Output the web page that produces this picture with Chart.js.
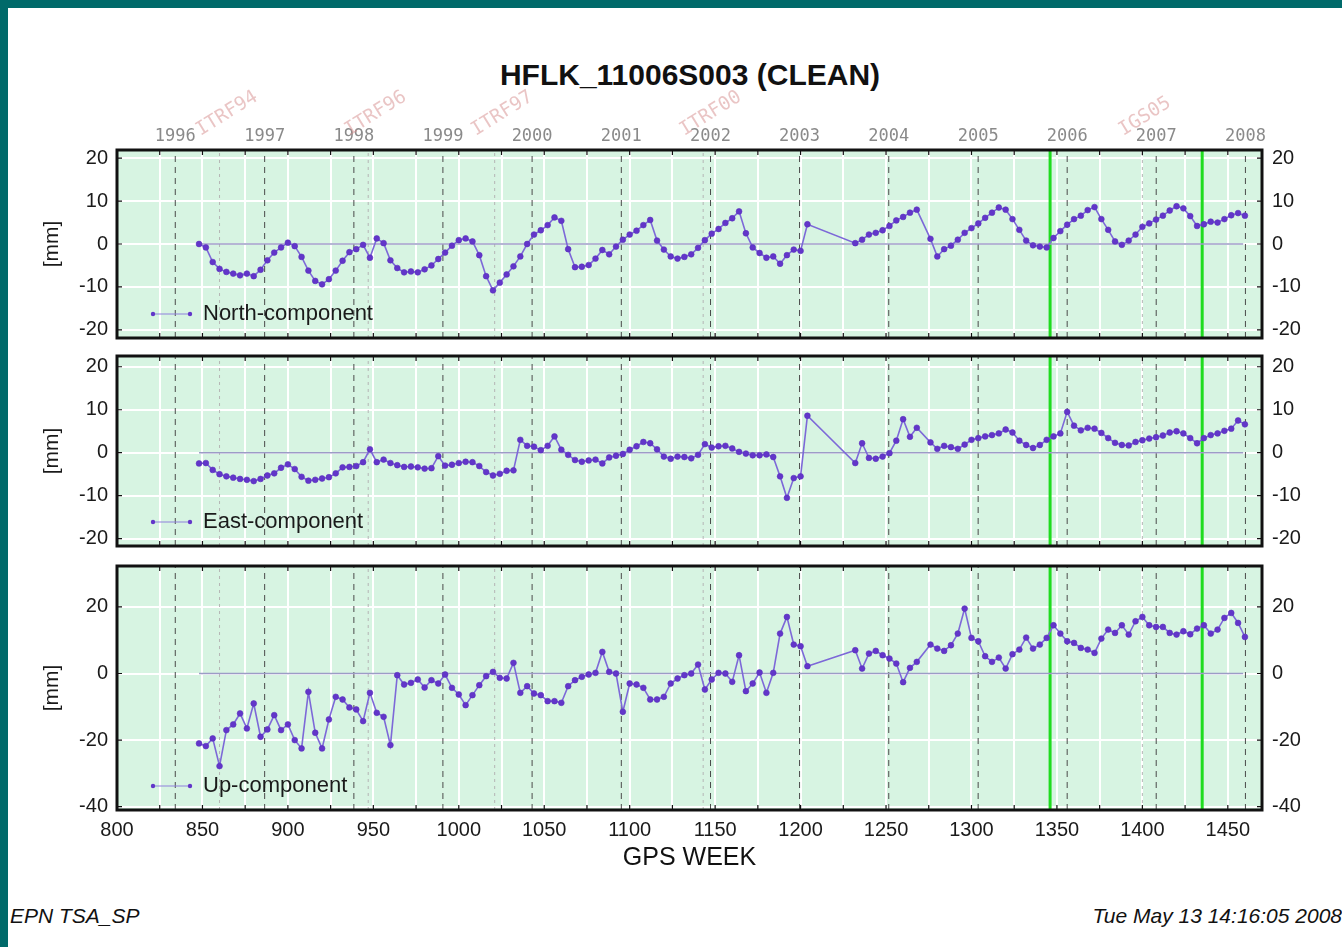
<!DOCTYPE html>
<html>
<head>
<meta charset="utf-8">
<script src="https://cdn.jsdelivr.net/npm/chart.js@4.4.0/dist/chart.umd.min.js"></script>
<style>
  html, body { margin: 0; padding: 0; }
  body { width: 1342px; height: 947px; background: #006a6a; position: relative; overflow: hidden;
         font-family: "Liberation Sans", Arial, Helvetica, sans-serif; }
  #page { position: absolute; left: 8px; top: 8px; width: 1334px; height: 939px; background: #ffffff; }
  #page canvas { position: absolute; left: 0; }
  #title { position: absolute; left: 382px; width: 600px; top: 49px; line-height: 36px; text-align: center;
           font-size: 30px; font-weight: bold; color: #111; }
  #footL { position: absolute; left: 2px; top: 896px; line-height: 24px; font-size: 21px; font-style: italic; color: #111; }
  #footR { position: absolute; right: 0px; top: 896px; line-height: 24px; font-size: 21px; font-style: italic; color: #111; white-space: nowrap; }
</style>
</head>
<body>
<div id="page">
  <div id="title">HFLK_11006S003 (CLEAN)</div>
  <canvas id="c1" width="1334" height="306" style="top:32px"></canvas>
  <canvas id="c2" width="1334" height="210" style="top:338px"></canvas>
  <canvas id="c3" width="1334" height="334" style="top:548px"></canvas>
  <div id="footL">EPN TSA_SP</div>
  <div id="footR">Tue May 13 14:16:05 2008</div>
</div>
<script>
// ---------------- DATA ----------------
const weeks = [
  848, 852, 856, 860, 864, 868, 872, 876, 880, 884,
  888, 892, 896, 900, 904, 908, 912, 916, 920, 924,
  928, 932, 936, 940, 944, 948, 952, 956, 960, 964,
  968, 972, 976, 980, 984, 988, 992, 996, 1000, 1004,
  1008, 1012, 1016, 1020, 1024, 1028, 1032, 1036, 1040, 1044,
  1048, 1052, 1056, 1060, 1064, 1068, 1072, 1076, 1080, 1084,
  1088, 1092, 1096, 1100, 1104, 1108, 1112, 1116, 1120, 1124,
  1128, 1132, 1136, 1140, 1144, 1148, 1152, 1156, 1160, 1164,
  1168, 1172, 1176, 1180, 1184, 1188, 1192, 1196, 1200, 1204,
  1232, 1236, 1240, 1244, 1248, 1252, 1256, 1260, 1264, 1268,
  1276, 1280, 1284, 1288, 1292, 1296, 1300, 1304, 1308, 1312,
  1316, 1320, 1324, 1328, 1332, 1336, 1340, 1344, 1348, 1352,
  1356, 1360, 1364, 1368, 1372, 1376, 1380, 1384, 1388, 1392,
  1396, 1400, 1404, 1408, 1412, 1416, 1420, 1424, 1428, 1432,
  1436, 1440, 1444, 1448, 1452, 1456, 1460
];

const north = [
  0, -0.8, -4.2, -5.8, -6.5, -6.9, -7.3, -6.9, -7.5, -6.0,
  -3.8, -2.0, -0.8, 0.3, -0.5, -3.0, -6.2, -8.6, -9.4, -8.2,
  -6.2, -3.9, -1.9, -1.2, -0.2, -3.2, 1.3, 0.2, -3.8, -5.6,
  -6.6, -6.4, -6.6, -5.9, -5.0, -3.5, -2.0, -0.4, 0.9, 1.3,
  0.6, -2.6, -7.5, -10.8, -9.0, -7.1, -5.2, -2.9, 0.0, 2.2,
  3.2, 4.4, 6.2, 5.4, -1.2, -5.4, -5.3, -4.9, -3.4, -1.4,
  -2.4, -0.6, 1.0, 2.2, 3.1, 4.4, 5.6, 0.8, -1.3, -2.9,
  -3.4, -3.0, -2.4, -0.9, 0.9, 2.4, 3.5, 4.9, 6.0, 7.6,
  2.5, -0.8, -2.1, -3.2, -2.9, -4.6, -2.6, -1.3, -1.6, 4.6,
  0.2, 1.0, 2.2, 2.6, 3.2, 4.2, 5.5, 6.3, 7.3, 8.0,
  1.2, -2.9, -1.2, -0.4, 1.0, 2.6, 3.7, 4.8, 6.1, 7.3,
  8.5, 8.0, 5.8, 3.3, 0.8, -0.3, -0.6, -0.8, 1.4, 3.0,
  4.5, 5.8, 6.6, 7.9, 8.6, 5.8, 3.3, 0.6, -0.2, 0.8,
  2.2, 4.0, 4.8, 5.7, 6.6, 7.8, 8.8, 8.3, 6.5, 4.2,
  4.6, 5.2, 5.0, 5.8, 6.7, 7.2, 6.6
];

const east = [
  -2.5, -2.4, -4.0, -5.0, -5.5, -5.8, -6.1, -6.3, -6.6, -6.1,
  -5.3, -4.8, -3.5, -2.7, -3.8, -5.6, -6.5, -6.3, -6.0, -5.7,
  -4.8, -3.4, -3.3, -3.1, -2.2, 0.8, -2.2, -1.6, -2.4, -2.9,
  -3.3, -3.2, -3.4, -3.7, -3.6, -0.8, -3.0, -2.8, -2.4, -2.1,
  -2.2, -3.1, -4.5, -5.3, -4.9, -4.2, -4.1, 3.0, 1.6, 1.4,
  0.6, 1.6, 3.8, 0.7, -0.5, -1.7, -2.1, -1.8, -1.6, -2.5,
  -1.1, -0.7, -0.3, 0.7, 1.5, 2.5, 2.2, 0.8, -0.9, -1.4,
  -0.9, -1.0, -1.3, -0.5, 2.0, 1.2, 1.5, 1.6, 1.0, 0.2,
  -0.2, -0.6, -0.6, -0.4, -1.0, -5.5, -10.5, -5.9, -5.5, 8.6,
  -2.4, 2.2, -1.2, -1.4, -0.9, -0.1, 2.8, 7.8, 3.7, 5.8,
  2.4, 0.9, 1.6, 1.3, 0.9, 1.9, 3.0, 3.4, 3.8, 4.1,
  4.5, 5.4, 4.7, 2.8, 1.8, 1.1, 1.8, 3.0, 3.8, 4.5,
  9.5, 6.3, 5.2, 5.8, 5.6, 4.6, 3.4, 2.3, 1.8, 1.7,
  2.5, 2.9, 3.3, 3.6, 4.0, 4.7, 5.0, 4.5, 3.4, 2.2,
  3.4, 4.1, 4.5, 5.1, 5.6, 7.5, 6.6
];

const up = [
  -21.0, -21.8, -19.5, -27.8, -17.0, -15.3, -12.0, -16.5, -9.0, -19.0,
  -16.8, -12.5, -17.0, -15.3, -20.0, -22.5, -5.5, -17.8, -22.5, -13.8,
  -7.0, -7.8, -10.2, -10.8, -14.3, -5.8, -11.8, -13.0, -21.5, -0.5,
  -3.3, -2.8, -1.8, -4.2, -2.0, -3.0, -0.3, -4.3, -6.3, -9.5,
  -6.5, -3.5, -0.8, 0.5, -1.3, -1.5, 3.2, -5.8, -3.8, -6.0,
  -6.5, -8.3, -8.3, -8.8, -3.8, -2.0, -1.0, -0.3, 0.2, 6.5,
  0.5, 0.0, -11.5, -3.0, -3.3, -4.3, -7.8, -7.8, -7.0, -3.0,
  -1.5, -0.5, 0.0, 2.7, -4.8, -1.8, 0.2, 0.0, -2.5, 5.5,
  -5.3, -3.0, 0.3, -5.8, 0.2, 12.0, 17.0, 8.7, 8.2, 2.2,
  7.0, 1.5, 6.0, 6.8, 5.5, 4.5, 3.0, -2.6, 1.7, 3.5,
  8.7, 7.5, 6.8, 8.5, 12.0, 19.5, 10.7, 9.7, 5.2, 3.5,
  4.8, 1.5, 5.8, 7.2, 10.8, 7.5, 8.7, 10.7, 14.5, 12.0,
  9.7, 9.2, 7.7, 7.2, 6.2, 10.5, 13.2, 12.2, 14.5, 11.7,
  15.7, 17.0, 14.5, 14.0, 14.0, 12.2, 11.7, 12.7, 11.8, 13.5,
  14.5, 12.0, 13.2, 16.7, 18.2, 15.2, 11.0
];

const zeroLineWeeks = [848, 1459];
const yearWeeks  = [834.1, 886.4, 938.6, 990.7, 1042.9, 1095.1, 1147.3, 1199.4, 1251.6, 1303.9, 1356.0, 1408.1, 1460.3];
const yearLabels = ['1996', '1997', '1998', '1999', '2000', '2001', '2002', '2003', '2004', '2005', '2006', '2007', '2008'];
const itrfWeeks  = [860, 947, 1021, 1143, 1400];
const itrfLabels = ['ITRF94', 'ITRF96', 'ITRF97', 'ITRF00', 'IGS05'];
const greenWeeks = [1346, 1435];
const xLabelWeeks = [800, 850, 900, 950, 1000, 1050, 1100, 1150, 1200, 1250, 1300, 1350, 1400, 1450];
const xGridWeeks = [800, 825, 850, 875, 900, 925, 950, 975, 1000, 1025, 1050, 1075, 1100, 1125, 1150,
                    1175, 1200, 1225, 1250, 1275, 1300, 1325, 1350, 1375, 1400, 1425, 1450];
const yTicksNE = [-20, -10, 0, 10, 20];
const yTicksUp = [-40, -20, 0, 20];
const seriesLabels = ['North-component', 'East-component', 'Up-component'];

// ---------------- DRAWING ----------------
const FONT = '"Liberation Sans", Arial, Helvetica, sans-serif';
const MONO = '"DejaVu Sans Mono", "Liberation Mono", monospace';
const X_MIN = 800, X_MAX = 1470;

const panelPlugin = {
  id: 'panel',
  beforeDraw(chart) {
    const { ctx, chartArea: a } = chart;
    ctx.save();
    ctx.fillStyle = '#d7f4e2';
    ctx.fillRect(a.left, a.top, a.right - a.left, a.bottom - a.top);
    ctx.restore();
  },
  afterDraw(chart, args, opts) {
    const { ctx, chartArea: a, scales } = chart;
    ctx.save();
    ctx.strokeStyle = '#111';
    ctx.lineWidth = 1.2;
    ctx.beginPath();
    xGridWeeks.forEach(w => {
      const x = scales.x.getPixelForValue(w);
      ctx.moveTo(x, a.top); ctx.lineTo(x, a.top + 5);
      ctx.moveTo(x, a.bottom); ctx.lineTo(x, a.bottom - 5);
    });
    opts.yTicks.forEach(v => {
      const y = scales.y.getPixelForValue(v);
      ctx.moveTo(a.left, y); ctx.lineTo(a.left + 5, y);
      ctx.moveTo(a.right, y); ctx.lineTo(a.right - 5, y);
    });
    ctx.stroke();
    ctx.lineWidth = 3;
    ctx.strokeRect(a.left, a.top, a.right - a.left, a.bottom - a.top);
    const ly = a.bottom - 24;
    const x0 = a.left + 36, x1 = a.left + 73;
    ctx.strokeStyle = '#8f80dc';
    ctx.lineWidth = 1;
    ctx.beginPath(); ctx.moveTo(x0, ly); ctx.lineTo(x1, ly); ctx.stroke();
    ctx.fillStyle = '#6236c9';
    [x0, x1].forEach(x => { ctx.beginPath(); ctx.arc(x, ly, 2.2, 0, Math.PI * 2); ctx.fill(); });
    ctx.fillStyle = '#1a1a1a';
    ctx.font = '22px ' + FONT;
    ctx.textAlign = 'left';
    ctx.textBaseline = 'middle';
    ctx.fillText(opts.label, a.left + 86, ly);
    if (opts.itrf) {
      ctx.font = '19px ' + MONO;
      ctx.fillStyle = 'rgba(214,140,140,0.5)';
      ctx.textBaseline = 'alphabetic';
      itrfWeeks.forEach((w, i) => {
        const x = scales.x.getPixelForValue(w);
        ctx.save();
        ctx.translate(x - 19, a.top - 14);
        ctx.rotate(-32 * Math.PI / 180);
        ctx.fillText(itrfLabels[i], 0, 0);
        ctx.restore();
      });
    }
    ctx.restore();
  }
};

function vline(w, yMin, yMax, style) {
  return Object.assign({
    data: [{ x: w, y: yMin }, { x: w, y: yMax }],
    pointRadius: 0, fill: false, tension: 0
  }, style);
}

function makePanel(id, values, label, yMin, yMax, yTicks, opts) {
  const datasets = [
    {
      data: weeks.map((w, i) => ({ x: w, y: values[i] })),
      borderColor: '#7d68d8', borderWidth: 1.6,
      pointRadius: 2.9, pointBackgroundColor: '#6236c9', pointBorderColor: '#5a2fc0', pointBorderWidth: 0.6,
      fill: false, tension: 0, order: 0
    },
    {
      data: zeroLineWeeks.map(w => ({ x: w, y: 0 })),
      borderColor: '#9c9cc6', borderWidth: 1.5, pointRadius: 0, fill: false, order: 1
    }
  ];
  greenWeeks.forEach(w => datasets.push(vline(w, yMin, yMax, { borderColor: '#1fdc1f', borderWidth: 3, order: 2 })));
  yearWeeks.forEach(w => datasets.push(vline(w, yMin, yMax, { borderColor: '#4a4a4a', borderWidth: 1, borderDash: [6, 5], order: 3 })));
  itrfWeeks.forEach(w => datasets.push(vline(w, yMin, yMax, { borderColor: '#b5b5b5', borderWidth: 1, borderDash: [3, 4], order: 3 })));

  const tickFont = { family: FONT, size: 20 };
  const scales = {
    x: {
      type: 'linear', position: 'bottom', min: X_MIN, max: X_MAX,
      afterBuildTicks: s => { s.ticks = xGridWeeks.map(v => ({ value: v })); },
      afterFit: s => { s.height = opts.bottom ? 80 : 0; s.paddingLeft = 0; s.paddingRight = 0; },
      grid: { color: '#ffffff', lineWidth: 2, drawTicks: false },
      border: { display: false },
      ticks: {
        display: !!opts.bottom, autoSkip: false, maxRotation: 0, padding: 8, color: '#1a1a1a', font: tickFont,
        callback: v => xLabelWeeks.includes(v) ? String(v) : ''
      },
      title: {
        display: !!opts.bottom, text: 'GPS WEEK', color: '#111',
        font: { family: FONT, size: 25, lineHeight: 1.2 }, padding: { top: 0, bottom: 17 }
      }
    },
    y: {
      position: 'left', min: yMin, max: yMax,
      afterBuildTicks: s => { s.ticks = yTicks.map(v => ({ value: v })); },
      afterFit: s => { s.width = 109; s.paddingTop = 0; s.paddingBottom = 0; },
      grid: { color: '#ffffff', lineWidth: 2, drawTicks: false },
      border: { display: false },
      ticks: { padding: 9, color: '#1a1a1a', font: tickFont },
      title: { display: true, text: '[mm]', color: '#1a1a1a', font: { family: FONT, size: 21, lineHeight: 1.2 }, padding: { top: 32, bottom: 0 } }
    },
    yR: {
      position: 'right', min: yMin, max: yMax,
      afterBuildTicks: s => { s.ticks = yTicks.map(v => ({ value: v })); },
      afterFit: s => { s.width = 80; s.paddingTop = 0; s.paddingBottom = 0; },
      grid: { display: false, drawTicks: false },
      border: { display: false },
      ticks: { padding: 10, color: '#1a1a1a', font: tickFont }
    }
  };
  if (opts.top) {
    scales.xTop = {
      type: 'linear', position: 'top', min: X_MIN, max: X_MAX,
      afterBuildTicks: s => { s.ticks = yearWeeks.map(v => ({ value: v })); },
      afterFit: s => { s.height = 24; s.paddingLeft = 0; s.paddingRight = 0; },
      grid: { display: false, drawTicks: false },
      border: { display: false },
      ticks: {
        autoSkip: false, maxRotation: 0, padding: 3, color: '#8a8a8a',
        font: { family: MONO, size: 17 },
        callback: (v, i) => yearLabels[i]
      }
    };
  }

  return new Chart(document.getElementById(id), {
    type: 'line',
    data: { datasets },
    options: {
      responsive: false, animation: false, devicePixelRatio: 1, events: [],
      layout: { padding: opts.padding },
      plugins: {
        legend: { display: false }, tooltip: { enabled: false },
        panel: { label, yTicks, itrf: !!opts.top }
      },
      scales
    },
    plugins: [panelPlugin]
  });
}

makePanel('c1', north, seriesLabels[0], -21.9, 21.9, yTicksNE, { top: true, padding: { top: 86, bottom: 8, left: 0, right: 0 } });
makePanel('c2', east, seriesLabels[1], -21.7, 22.5, yTicksNE, { padding: { top: 10, bottom: 10, left: 0, right: 0 } });
makePanel('c3', up, seriesLabels[2], -41, 32.3, yTicksUp, { bottom: true, padding: { top: 10, bottom: 0, left: 0, right: 0 } });
</script>
</body>
</html>
